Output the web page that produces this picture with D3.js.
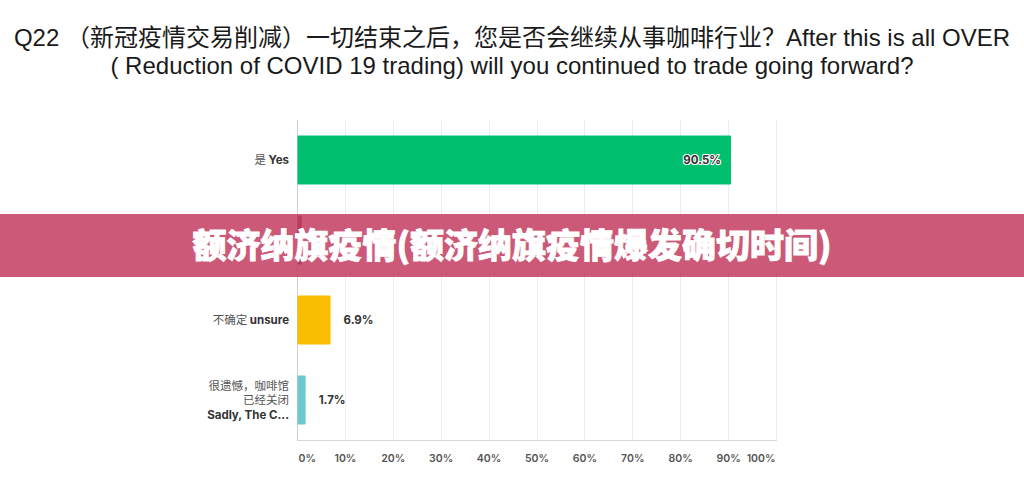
<!DOCTYPE html>
<html><head><meta charset="utf-8">
<script src="https://cdn.jsdelivr.net/npm/d3@7"></script>
<style>
body{margin:0;background:#fff;overflow:hidden}
svg{display:block}
</style></head>
<body>
<svg id="c" width="1024" height="493"></svg>
<script>
const titleLines = ["Q22 （新冠疫情交易削减）一切结束之后，您是否会继续从事咖啡行业？After this is all OVER",
                    "( Reduction of COVID 19 trading) will you continued to trade going forward?"];
const categories = ["yes","no","unsure","sadly"];
const labelCn = [["是"],["否"],["不确定"],["很遗憾，咖啡馆","已经关闭"]];
const labelEn = ["Yes","No","unsure","Sadly, The C..."];
const values = [90.5, 0.9, 6.9, 1.7];
const colors = ["#00BF6F","#7A2D5C","#F9BE00","#6BC8CD"];
const xTicks = [0,10,20,30,40,50,60,70,80,90,100];
const bannerText = "额济纳旗疫情(额济纳旗疫情爆发确切时间)";
const hiddenByBanner = ["no"];

const svg = d3.select("#c");
const x = d3.scaleLinear().domain([0,100]).range([297.5,776.5]);
const y = d3.scaleBand().domain(categories).range([120,440]).paddingInner(0.3875).paddingOuter(0.19375);

// title
const tt = svg.append("text").attr("text-anchor","middle")
  .attr("font-family","'Liberation Sans','Noto Sans CJK SC',sans-serif").attr("font-size",24).attr("fill","#1a1a1a");
titleLines.forEach((t,i)=>tt.append("tspan").attr("x",512).attr("y",46+i*28).text(t));

// grid
svg.append("g").selectAll("line").data(xTicks).join("line")
  .attr("x1",d=>x(d)).attr("x2",d=>x(d)).attr("y1",120).attr("y2",440)
  .attr("stroke",d=>d===0?"#cfcfcf":"#ececec").attr("stroke-width",1).attr("shape-rendering","crispEdges");
svg.append("line").attr("x1",297).attr("x2",777).attr("y1",440).attr("y2",440)
  .attr("stroke","#d6d6d6").attr("shape-rendering","crispEdges");

// tick labels
svg.append("g").selectAll("text").data(xTicks).join("text")
  .attr("x",d=>d===0?x(d)+1:d===100?x(d)-1:x(d))
  .attr("text-anchor",d=>d===0?"start":d===100?"end":"middle")
  .attr("y",462).attr("font-family","Inter,'Noto Sans',sans-serif").attr("font-size",10.5)
  .attr("font-weight",600).attr("fill","#555").text(d=>d+"%");

// bars
svg.append("g").selectAll("rect").data(categories).join("rect")
  .attr("x",x(0)).attr("y",d=>y(d)).attr("height",y.bandwidth())
  .attr("width",(d,i)=>x(values[i])-x(0)).attr("fill",(d,i)=>colors[i]).attr("rx",1);

// value labels (the one covered by the banner is not visible in the reference)
categories.forEach((c,i)=>{
  if(hiddenByBanner.includes(c)) return;
  const v = values[i];
  const inside = v>50;
  const t = svg.append("text")
    .attr("x", inside? x(v)-10 : x(v)+13)
    .attr("y", y(c)+y.bandwidth()/2+4)
    .attr("text-anchor", inside?"end":"start")
    .attr("font-family","Inter,'Noto Sans',sans-serif").attr("font-size",11.5).attr("font-weight",700)
    .attr("fill","#333").text(v.toFixed(1)+"%");
  if(inside) t.attr("stroke","#fff").attr("stroke-width",2.2).attr("paint-order","stroke").attr("stroke-linejoin","round");
});

// category labels
categories.forEach((c,i)=>{
  if(hiddenByBanner.includes(c)) return;
  const cn = labelCn[i];
  const lines = cn.length===1 ? [[cn[0]+" ", labelEn[i]]] : cn.map(s=>[s,null]).concat([[null,labelEn[i]]]);
  const lh = 14.5;
  const cy = y(c)+y.bandwidth()/2;
  const y0 = cy - (lines.length-1)*lh/2 + 4;
  lines.forEach((ln,j)=>{
    const t = svg.append("text").attr("x",289).attr("y",y0+j*lh).attr("text-anchor","end")
      .attr("font-size",11.5);
    if(ln[0]) t.append("tspan").attr("font-family","'Noto Sans CJK SC',sans-serif").attr("fill","#555").text(ln[0]);
    if(ln[1]) t.append("tspan").attr("font-family","Inter,'Noto Sans',sans-serif").attr("font-weight",700).attr("fill","#333").text(ln[1]);
  });
});

// banner overlay
svg.append("rect").attr("x",0).attr("y",214).attr("width",1024).attr("height",63)
  .attr("fill","rgb(195,62,97)").attr("fill-opacity",0.86);
svg.append("text").attr("x",512).attr("y",258).attr("text-anchor","middle")
  .attr("font-family","'Noto Sans CJK SC',sans-serif").attr("font-weight",900).attr("font-size",34)
  .attr("fill","#fff").attr("stroke","#fff").attr("stroke-width",0.8).text(bannerText);
</script>
</body></html>
